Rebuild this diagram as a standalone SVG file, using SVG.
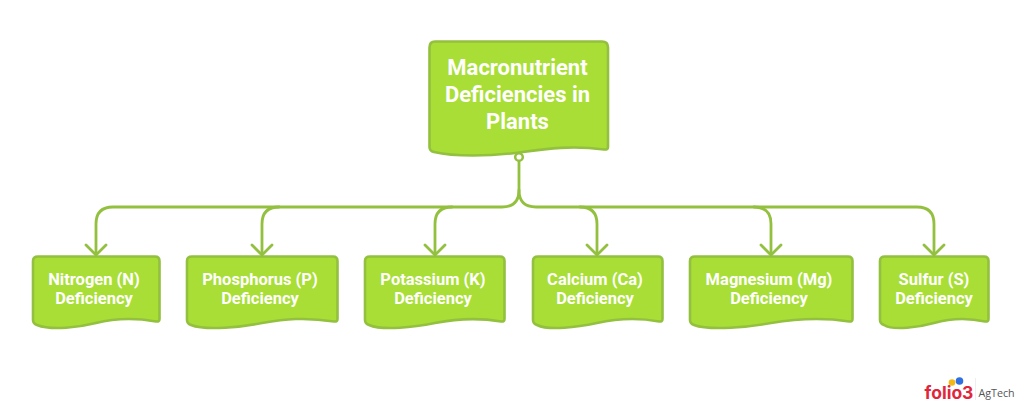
<svg xmlns="http://www.w3.org/2000/svg" width="1024" height="414" viewBox="0 0 1024 414">
<style>
.box{fill:#a8de35;stroke:#93c03f;stroke-width:2.6;stroke-linejoin:round}
.line{fill:none;stroke:#93c03f;stroke-width:2.8;stroke-linecap:round;stroke-linejoin:round}
text{font-family:Roboto,"Liberation Sans",sans-serif;font-weight:700;fill:#fff;text-anchor:middle}
.t{font-size:22px}
.s{font-size:16.5px}
</style>
<rect width="1024" height="414" fill="#fff"/>
<g id="connectors">
<path class="line" d="M519 161V190Q519 207 502 207H113Q96 207 96 224V254"/>
<path class="line" d="M279 207Q262 207 262 224V254"/>
<path class="line" d="M452 207Q435 207 435 224V254"/>
<path class="line" d="M519 190Q519 207 536 207H917Q934 207 934 224V254"/>
<path class="line" d="M580 207Q597 207 597 224V254"/>
<path class="line" d="M754 207Q771 207 771 224V254"/>
<path class="line" d="M86 245L96 255L106 245M252 245L262 255L272 245M425 245L435 255L445 245M587 245L597 255L607 245M761 245L771 255L781 245M924 245L934 255L944 245"/>
<circle cx="519" cy="157" r="3.8" fill="#fff" stroke="#93c03f" stroke-width="2.5"/>
</g>
<g id="root">
<path class="box" d="M435 41.500H602Q608 41.500 608 47.500V147Q608 150 604 149.500C570 145 545 149 515 153C490 156 455 157 434 152Q429.500 151 429.500 147V47.500Q429.500 41.500 435 41.500Z"/>
<text class="t" x="517.500" y="75">Macronutrient</text>
<text class="t" x="517.500" y="102">Deficiencies in</text>
<text class="t" x="517.500" y="129">Plants</text>
</g>
<g id="n1">
<path class="box" d="M38 256.500H155Q159.500 256.500 159.500 261V319Q159.500 322 156 321.500C130 317 112 319 96 323C80 327 52 331 37 325Q33 323.500 33 320V261Q33 256.500 38 256.500Z"/>
<text class="s" x="94" y="285">Nitrogen (N)</text>
<text class="s" x="94" y="303.500">Deficiency</text>
</g>
<g id="n2">
<path class="box" d="M192 256.500H333Q337.500 256.500 337.500 261V319Q337.500 322 334 321.500C305 317 285 319 262 323C243 327 206 331 191 325Q187 323.500 187 320V261Q187 256.500 192 256.500Z"/>
<text class="s" x="260" y="285">Phosphorus (P)</text>
<text class="s" x="260" y="303.500">Deficiency</text>
</g>
<g id="n3">
<path class="box" d="M370 256.500H500Q504.500 256.500 504.500 261V319Q504.500 322 501 321.500C475 317 455 319 435 323C415 327 383 331 369 325Q365 323.500 365 320V261Q365 256.500 370 256.500Z"/>
<text class="s" x="433" y="285">Potassium (K)</text>
<text class="s" x="433" y="303.500">Deficiency</text>
</g>
<g id="n4">
<path class="box" d="M538 256.500H658Q662.500 256.500 662.500 261V319Q662.500 322 659 321.500C635 317 615 319 597 323C578 327 549 331 537 325Q533 323.500 533 320V261Q533 256.500 538 256.500Z"/>
<text class="s" x="595" y="285">Calcium (Ca)</text>
<text class="s" x="595" y="303.500">Deficiency</text>
</g>
<g id="n5">
<path class="box" d="M695 256.500H848Q852.500 256.500 852.500 261V319Q852.500 322 849 321.500C820 317 795 319 771 323C750 327 710 331 694 325Q690 323.500 690 320V261Q690 256.500 695 256.500Z"/>
<text class="s" x="769" y="285">Magnesium (Mg)</text>
<text class="s" x="769" y="303.500">Deficiency</text>
</g>
<g id="n6">
<path class="box" d="M885 256.500H984Q988.500 256.500 988.500 261V319Q988.500 322 985 321.500C965 317 948 319 934 323C920 327 893 331 884 325Q880 323.500 880 320V261Q880 256.500 885 256.500Z"/>
<text class="s" x="934" y="285">Sulfur (S)</text>
<text class="s" x="934" y="303.500">Deficiency</text>
</g>
<g id="logo">
<circle cx="952" cy="382.500" r="3.300" fill="#f5b916"/>
<circle cx="959.500" cy="381" r="3.800" fill="#2f6fe0"/>
<text x="949" y="399" style="font-family:Inter,'Liberation Sans',sans-serif;font-size:17.500px;font-weight:700;fill:#e0263c">folio3</text>
<path d="M975.500 378V400" stroke="#eee" stroke-width="1"/>
<text x="996.500" y="397" style="font-family:'Open Sans','Liberation Sans',sans-serif;font-size:10.700px;font-weight:400;fill:#555">AgTech</text>
</g>
</svg>
